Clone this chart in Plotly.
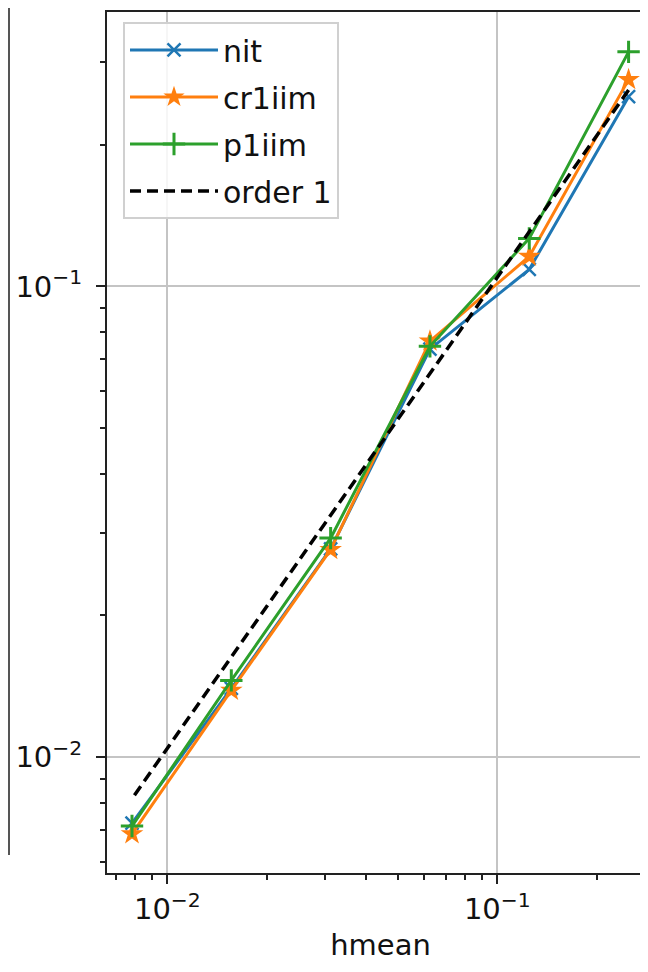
import plotly.graph_objects as go

hmean = [0.25, 0.125, 0.0625, 0.03125, 0.015625, 0.0078125]
err_nit = [0.253, 0.1087, 0.0736, 0.0277, 0.0140, 0.00724]
err_cr1iim = [0.275, 0.1158, 0.0765, 0.0276, 0.01386, 0.00687]
err_p1iim = [0.315, 0.1265, 0.0746, 0.0292, 0.01456, 0.00714]
order1_const = 1.045
order1 = [order1_const * h for h in hmean]

x_major = [0.01, 0.1]
x_major_text = ["10<sup>−2</sup>", "10<sup>−1</sup>"]
y_major = [0.01, 0.1]
y_major_text = ["10<sup>−2</sup>", "10<sup>−1</sup>"]
x_minor = [0.007, 0.008, 0.009, 0.02, 0.03, 0.04, 0.05, 0.06, 0.07, 0.08, 0.09, 0.2]
y_minor = [0.006, 0.007, 0.008, 0.009, 0.02, 0.03, 0.04, 0.05, 0.06, 0.07, 0.08, 0.09, 0.2, 0.3]

FONT = "DejaVu Sans"
fig = go.Figure()
fig.add_trace(go.Scatter(x=hmean, y=err_nit, name="nit", mode="lines+markers", legendgroup="a",
                         line=dict(color="#1f77b4", width=3),
                         marker=dict(symbol="x-thin", size=13, line=dict(color="#1f77b4", width=2.5))))
fig.add_trace(go.Scatter(x=hmean, y=err_cr1iim, name="cr1iim", mode="lines+markers", legendgroup="b",
                         line=dict(color="#ff7f0e", width=3),
                         marker=dict(symbol="star", size=17, color="#ff7f0e", line=dict(width=0))))
fig.add_trace(go.Scatter(x=hmean, y=err_p1iim, name="p1iim", mode="lines+markers", legendgroup="c",
                         line=dict(color="#2ca02c", width=3),
                         marker=dict(symbol="cross-thin", size=16, line=dict(color="#2ca02c", width=3))))
fig.add_trace(go.Scatter(x=hmean, y=order1, name="order 1", mode="lines", legendgroup="d",
                         line=dict(color="black", width=3.5, dash="11px,6px")))

axis_common = dict(
    type="log", showline=True, linecolor="#222", linewidth=2,
    ticks="outside", ticklen=9, tickwidth=2, tickcolor="#222",
    showgrid=True, gridcolor="#c4c4c4", gridwidth=2, zeroline=False,
    tickfont=dict(family=FONT, size=29, color="#111"),
)
fig.update_xaxes(**axis_common, range=[-2.183, -0.525], tickmode="array",
                 tickvals=x_major, ticktext=x_major_text, mirror=True,
                 minor=dict(tickmode="array", tickvals=x_minor, ticks="outside", ticklen=5,
                            tickwidth=1.5, tickcolor="#222", showgrid=False),
                 title=dict(text="hmean", font=dict(family=FONT, size=29, color="#111"), standoff=10))
fig.update_yaxes(**axis_common, range=[-2.246, -0.417], tickmode="array",
                 tickvals=y_major, ticktext=y_major_text,
                 minor=dict(tickmode="array", tickvals=y_minor, ticks="outside", ticklen=5,
                            tickwidth=1.5, tickcolor="#222", showgrid=False),
                 ticklabelstandoff=8)

# partial spine of a neighbouring panel at the far left edge
fig.add_shape(type="line", xref="paper", yref="paper",
              x0=(1 - 99) / 547, x1=(1 - 99) / 547, y0=(865 - 847) / 863, y1=(865 + 2) / 863,
              line=dict(color="#555", width=2))

fig.update_layout(
    width=648, height=972, margin=dict(l=99, r=2, t=2, b=107),
    plot_bgcolor="white", paper_bgcolor="white",
    font=dict(family=FONT, size=29, color="#111"),
    showlegend=True,
    legend=dict(x=(123 - 107) / 547, y=(865 - 12) / 863, xanchor="left", yanchor="top",
                bgcolor="rgba(255,255,255,0.85)", bordercolor="#d0d0d0", borderwidth=2,
                font=dict(family=FONT, size=30, color="#111"), itemwidth=88,
                tracegroupgap=5),
)
fig.write_html("out.html")
